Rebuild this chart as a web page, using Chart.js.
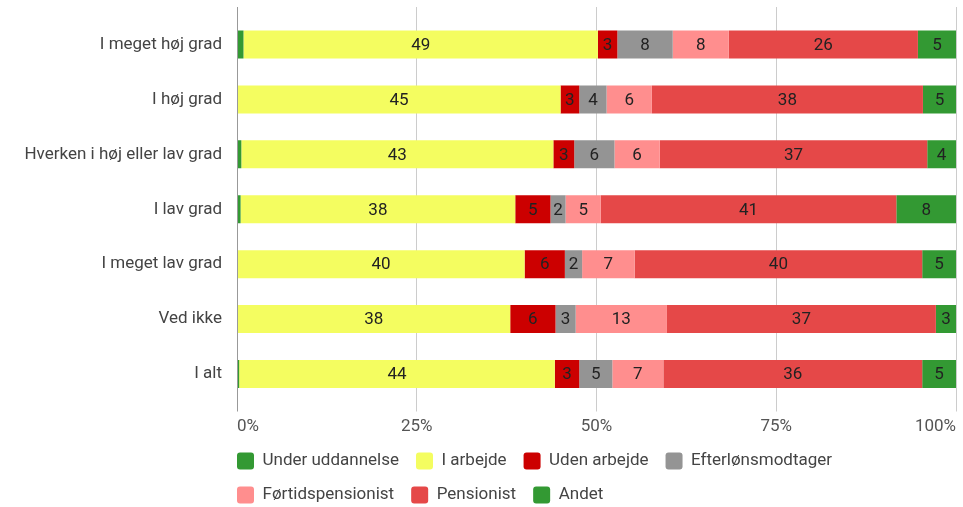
<!DOCTYPE html>
<html lang="da">
<head>
<meta charset="utf-8">
<title>Beskæftigelse fordelt på svar</title>
<script src="https://cdn.jsdelivr.net/npm/chart.js@4.4.1/dist/chart.umd.min.js"></script>
<style>
  html, body { margin: 0; padding: 0; background: #fff; }
  #wrap { width: 963px; height: 507px; }
</style>
</head>
<body>
<div id="wrap"><canvas id="chart"></canvas></div>
<script>
// Kategorier (svar)
const categories = [
  "I meget høj grad",
  "I høj grad",
  "Hverken i høj eller lav grad",
  "I lav grad",
  "I meget lav grad",
  "Ved ikke",
  "I alt",
];

// Andele i procent
const underUddannelse = [0.9, 0, 0.6, 0.5, 0, 0, 0.3];
const iArbejde = [49.3, 45.0, 43.4, 38.2, 40.0, 38.0, 43.9];
const udenArbejde = [2.7, 2.6, 2.9, 4.9, 5.6, 6.3, 3.4];
const efterloen = [7.7, 3.8, 5.6, 2.1, 2.4, 2.8, 4.6];
const foertid = [7.8, 6.3, 6.3, 4.9, 7.3, 12.7, 7.1];
const pensionist = [26.3, 37.7, 37.2, 41.1, 40.0, 37.4, 36.0];
const andet = [5.3, 4.6, 4.0, 8.3, 4.7, 2.8, 4.7];

const xTicks = [0, 25, 50, 75, 100];

const gridColor = (c) => (c.tick && c.tick.value === 0 ? "#999" : "#ccc");

// tal midt i hver bjælke, kun hvis der er plads
const valueLabels = {
  id: "valueLabels",
  afterLayout(chart) {
    // legenden skal starte ud for 0%-linjen
    const pad = chart.options.plugins.legend.labels.padding;
    chart.legend.left = chart.chartArea.left - pad;
  },
  afterDatasetsDraw(chart) {
    const ctx = chart.ctx;
    ctx.save();
    ctx.font = "17px Roboto";
    ctx.fillStyle = "#222";
    ctx.textAlign = "center";
    ctx.textBaseline = "middle";
    chart.data.datasets.forEach((ds, i) => {
      const meta = chart.getDatasetMeta(i);
      meta.data.forEach((bar, j) => {
        const text = String(Math.round(ds.data[j]));
        const w = Math.abs(bar.x - bar.base);
        if (ctx.measureText(text).width + 4 > w) return;
        ctx.fillText(text, (bar.x + bar.base) / 2, bar.y + 1);
      });
    });
    ctx.restore();
  },
};

const ds = (label, data, color) => ({
  label,
  data,
  backgroundColor: color,
  borderWidth: 0,
  barPercentage: 0.51,
  categoryPercentage: 1,
});

new Chart(document.getElementById("chart"), {
  type: "bar",
  data: {
    labels: categories,
    datasets: [
      ds("Under uddannelse", underUddannelse, "#339933"),
      ds("I arbejde", iArbejde, "#f4fd60"),
      ds("Uden arbejde", udenArbejde, "#cc0000"),
      ds("Efterlønsmodtager", efterloen, "#949494"),
      ds("Førtidspensionist", foertid, "#ff8e8e"),
      ds("Pensionist", pensionist, "#e54848"),
      ds("Andet", andet, "#339933"),
    ],
  },
  plugins: [valueLabels],
  options: {
    indexAxis: "y",
    responsive: true,
    maintainAspectRatio: false,
    animation: false,
    font: { family: "Roboto" },
    layout: { padding: { left: 0, right: 6, top: 7, bottom: -6.5 } },
    plugins: {
      tooltip: { enabled: false },
      legend: {
        position: "bottom",
        align: "start",
        fullSize: false,
        labels: {
          boxWidth: 17,
          boxHeight: 17,
          padding: 17,
          useBorderRadius: true,
          borderRadius: 3,
          color: "#444",
          font: { family: "Roboto", size: 17, lineHeight: 1 },
        },
      },
    },
    scales: {
      x: {
        stacked: true,
        min: 0,
        max: 100,
        border: { display: false },
        grid: { color: gridColor, tickLength: 10 },
        afterBuildTicks: (s) => { s.ticks = xTicks.map((v) => ({ value: v })); },
        afterFit: (s) => { s.height = 34; },
        ticks: {
          align: "inner",
          padding: 7,
          color: "#555",
          font: { family: "Roboto", size: 17, lineHeight: 1 },
          callback: (v) => v + "%",
        },
      },
      x2: {
        type: "linear",
        position: "top",
        min: 0,
        max: 100,
        border: { display: false },
        grid: { drawOnChartArea: false, tickLength: 10, color: gridColor },
        afterBuildTicks: (s) => { s.ticks = xTicks.map((v) => ({ value: v })); },
        ticks: { display: false },
      },
      y: {
        stacked: true,
        border: { color: "#999", z: 1 },
        grid: { display: false, drawTicks: true, tickLength: 15 },
        ticks: {
          padding: 0,
          color: "#444",
          font: { family: "Roboto", size: 17 },
        },
        afterFit: (s) => { s.width = 237; },
      },
    },
  },
});
</script>
</body>
</html>
